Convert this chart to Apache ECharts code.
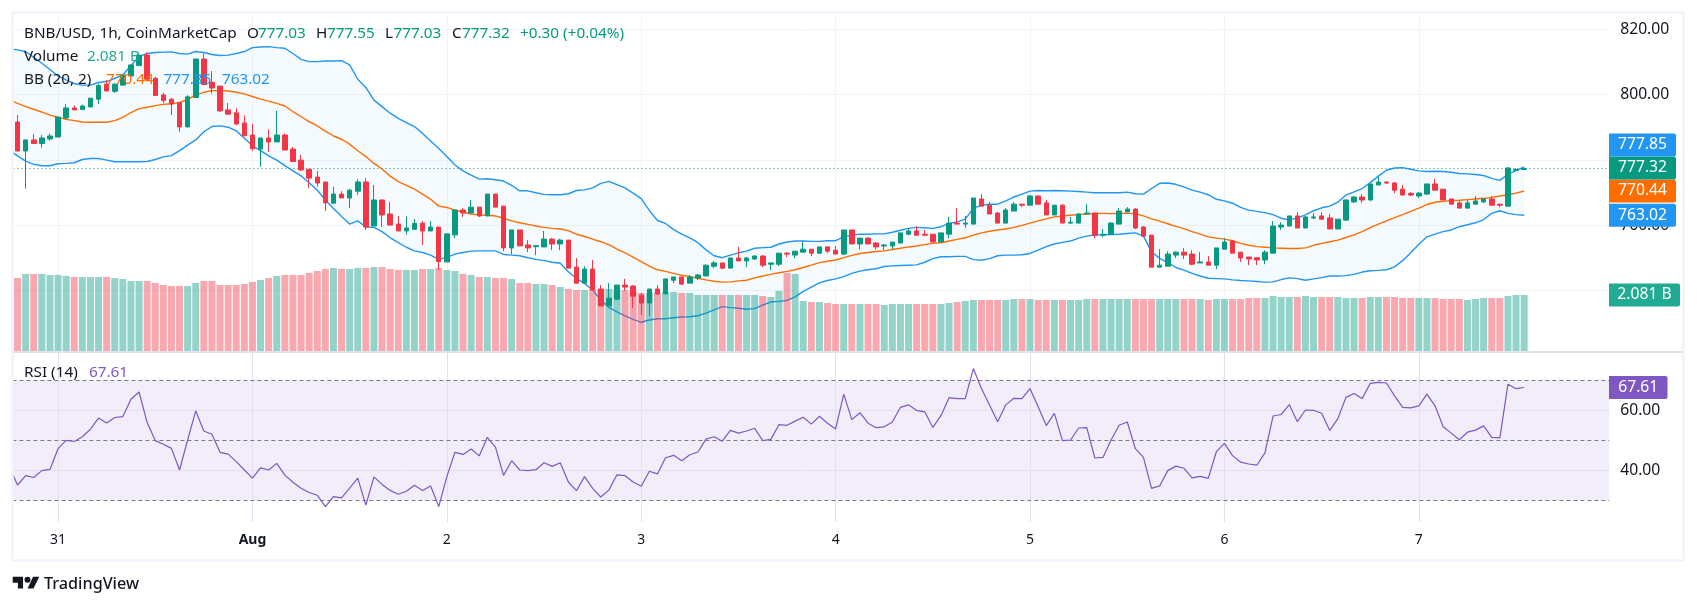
<!DOCTYPE html>
<html>
<head>
<meta charset="utf-8">
<title>BNB/USD</title>
<script src="https://cdn.jsdelivr.net/npm/echarts@6/dist/echarts.min.js"></script>
<style>html,body{margin:0;padding:0;background:#fff}</style>
</head>
<body>
<div id="main" style="width:1697px;height:607px"></div>
<script>
// hourly candles: [open, close, low, high]
var candles = [
[791.6,782.7,782.7,793.7],[782.7,786.1,771.2,786.1],[786.1,785.0,785.0,787.9],[785.0,786.7,783.7,787.6],[786.4,787.3,785.9,788.1],
[787.0,793.1,787.0,793.2],[792.8,795.9,792.4,797.1],[795.9,795.3,795.3,796.7],[795.4,796.5,795.4,796.9],[796.2,798.9,796.2,798.9],
[798.6,802.8,797.1,803.2],[803.2,801.1,801.1,804.5],[801.0,803.2,800.5,803.4],[802.9,806.0,802.9,806.0],[805.7,809.1,804.5,809.1],
[808.9,812.1,808.9,812.6],[812.1,804.7,804.7,812.9],[805.0,799.7,799.7,805.5],[799.9,798.2,797.3,800.5],[798.6,797.1,793.7,799.0],
[797.5,790.1,788.6,797.8],[790.1,799.3,789.9,799.8],[799.1,810.9,799.1,810.9],[810.9,803.1,803.1,812.6],[803.8,802.0,800.3,807.2],
[802.6,795.0,794.7,802.6],[795.3,794.0,794.0,797.4],[794.4,791.0,790.6,795.8],[791.3,787.4,787.2,793.6],[787.6,783.4,782.8,791.0],
[783.3,786.7,777.9,786.7],[786.7,785.5,782.4,789.3],[785.5,787.6,785.5,795.0],[787.6,783.0,783.0,788.1],[783.3,779.5,779.3,783.9],
[779.9,776.9,776.5,781.5],[777.1,774.4,771.4,777.1],[774.7,772.9,771.8,776.6],[773.2,766.8,764.3,773.2],[766.7,769.5,766.5,771.7],
[769.5,768.3,768.3,770.4],[768.3,770.7,765.2,771.1],[770.4,773.2,769.2,774.1],[773.2,759.4,758.5,774.4],[759.7,767.7,759.7,772.3],
[767.7,763.1,759.4,767.7],[763.4,760.0,760.0,767.1],[760.3,758.2,758.2,762.8],[758.2,759.1,757.0,762.6],[758.7,760.5,758.5,761.9],
[760.6,758.2,753.9,761.2],[758.2,759.4,758.2,761.2],[759.4,748.8,746.2,759.4],[748.7,757.3,748.7,757.3],[757.0,764.6,756.0,764.9],
[764.6,763.7,762.5,765.3],[763.7,765.5,763.7,767.7],[765.5,762.8,762.5,765.5],[762.8,769.5,762.8,769.5],[769.5,765.5,765.5,769.5],
[765.8,753.0,752.0,765.8],[753.0,758.5,751.1,758.5],[758.5,753.6,753.6,758.5],[753.9,753.0,751.7,755.4],[753.4,753.7,750.8,753.9],
[753.3,755.7,753.3,758.2],[755.7,754.2,752.3,756.0],[754.2,755.4,752.3,755.8],[755.4,746.8,746.8,755.4],[747.1,742.2,742.2,749.9],
[742.2,746.5,742.2,747.4],[746.5,740.1,740.1,749.3],[740.4,735.2,735.2,741.6],[735.2,737.6,735.2,742.2],[737.3,741.6,737.0,741.6],
[741.6,741.0,739.8,743.5],[741.3,738.2,734.6,741.6],[738.5,736.1,732.4,739.2],[736.1,740.4,732.1,740.4],[740.4,738.9,738.5,741.6],
[738.9,743.5,738.9,743.5],[743.1,744.1,742.2,744.1],[744.1,741.9,741.6,744.1],[742.2,744.1,742.2,744.7],[743.8,744.7,743.1,745.0],
[744.4,747.7,744.4,748.0],[747.4,748.4,746.8,749.0],[748.4,746.8,746.5,748.4],[746.8,749.9,746.8,749.9],[749.9,749.0,749.0,753.3],
[749.0,749.9,747.1,750.2],[749.6,750.5,749.3,750.8],[750.5,747.7,747.1,750.8],[748.0,748.4,746.2,748.4],[748.0,751.4,747.4,751.4],
[751.4,751.1,750.2,751.7],[750.8,752.0,749.9,752.0],[751.7,752.6,751.7,755.1],[752.6,751.4,750.5,752.6],[751.4,753.3,751.1,753.3],
[753.3,752.0,751.4,753.6],[752.3,751.1,751.1,753.6],[751.1,758.5,750.8,758.5],[758.5,754.2,754.2,758.5],[754.2,756.0,752.6,756.0],
[756.0,754.2,754.2,756.3],[754.5,753.3,752.6,754.8],[753.6,753.9,752.3,754.2],[753.6,754.8,752.6,754.8],[754.5,757.6,754.5,757.6],
[757.2,758.2,756.9,759.1],[758.2,756.9,756.9,759.7],[757.2,756.9,756.6,758.5],[757.2,754.8,754.8,757.2],[754.8,757.6,754.8,757.6],
[757.2,760.6,756.0,762.5],[760.6,760.3,760.3,765.2],[760.3,760.6,759.1,762.8],[760.3,768.3,760.3,768.3],[768.0,765.8,765.8,769.5],
[766.1,763.4,763.4,767.1],[763.7,760.6,760.6,764.0],[760.6,764.6,760.6,765.2],[764.3,766.4,764.3,767.1],[766.4,766.1,765.5,766.4],
[766.1,768.9,766.1,769.2],[768.9,766.4,766.4,769.2],[766.8,763.1,763.1,767.7],[763.1,766.1,763.1,766.1],[766.1,760.6,760.6,766.4],
[760.6,760.9,760.3,762.5],[760.6,763.4,760.6,763.7],[763.4,763.7,763.4,766.4],[763.7,756.9,756.0,763.7],[756.9,757.2,756.3,758.8],
[757.2,760.6,757.2,760.9],[760.3,764.3,760.3,765.2],[764.0,764.9,764.0,765.5],[764.9,759.1,758.8,765.2],[759.4,756.6,756.6,759.7],
[756.9,747.1,747.1,756.9],[747.1,747.7,747.1,752.6],[747.4,751.1,747.4,752.0],[750.8,751.7,749.9,752.0],[751.7,750.8,749.6,753.0],
[751.1,748.0,747.7,752.3],[748.4,748.7,748.4,751.7],[748.7,747.7,747.7,750.5],[747.7,753.0,746.5,753.0],[752.6,754.8,752.6,756.0],
[755.1,751.4,751.4,755.4],[751.7,749.9,748.7,751.7],[750.2,749.6,747.7,750.2],[750.0,749.3,747.7,750.2],[749.3,751.7,748.0,752.3],
[751.4,759.7,751.4,761.2],[759.4,760.0,758.5,760.9],[759.7,762.8,759.7,762.8],[762.8,759.1,759.1,764.0],[759.1,762.5,759.1,762.8],
[762.2,762.5,761.8,763.7],[762.8,761.8,761.8,764.0],[762.2,758.8,758.8,763.4],[758.8,761.8,758.8,761.8],[761.5,767.7,761.5,767.7],
[767.1,768.6,766.8,768.9],[768.6,767.7,766.8,769.5],[767.7,772.6,767.4,772.6],[772.3,773.2,772.3,774.7],[773.2,772.9,772.6,773.2],
[772.9,770.7,769.8,773.2],[771.0,769.2,769.2,772.3],[769.7,769.2,768.9,770.1],[768.9,769.8,768.3,770.1],[769.5,772.6,769.2,772.6],
[772.6,770.7,770.7,774.1],[771.0,767.7,767.7,771.0],[768.0,766.4,766.4,768.0],[766.8,765.2,765.2,767.4],[765.2,766.8,765.2,767.7],
[766.4,767.4,766.4,768.9],[767.1,768.0,766.8,768.0],[768.0,766.1,765.8,768.9],[766.4,766.1,765.5,766.4],[765.8,777.5,765.8,777.8],
[776.8,777.0,776.6,777.4],[777.03,777.32,777.03,777.55]
];

// volume in billions
var volumes = [
2.713,2.862,2.862,2.862,2.825,2.825,2.788,2.751,2.751,2.751,2.751,2.751,2.713,2.676,2.602,2.602,2.602,2.528,2.453,2.416,
2.416,2.416,2.528,2.602,2.602,2.453,2.453,2.453,2.490,2.565,2.639,2.713,2.788,2.825,2.825,2.825,2.899,2.974,3.048,3.085,
3.048,3.048,3.085,3.085,3.122,3.122,3.048,3.011,3.011,3.011,3.048,3.048,3.085,3.011,2.974,2.862,2.825,2.751,2.751,2.713,
2.713,2.676,2.528,2.528,2.490,2.490,2.453,2.379,2.305,2.267,2.267,2.305,2.305,2.305,2.267,2.267,2.193,2.156,2.156,2.156,
2.193,2.193,2.156,2.156,2.082,2.082,2.082,2.082,2.082,2.082,2.082,2.082,2.044,2.007,2.230,2.899,2.862,1.859,1.821,1.821,
1.784,1.747,1.747,1.747,1.747,1.747,1.747,1.710,1.747,1.747,1.747,1.747,1.747,1.747,1.747,1.784,1.821,1.859,1.896,1.896,
1.896,1.896,1.896,1.933,1.933,1.933,1.896,1.896,1.896,1.896,1.896,1.896,1.933,1.933,1.933,1.933,1.933,1.933,1.933,1.933,
1.933,1.933,1.933,1.933,1.933,1.933,1.933,1.896,1.933,1.933,1.933,1.933,1.970,1.970,1.970,2.044,2.007,2.007,2.007,2.044,
2.007,2.007,2.007,2.007,1.970,1.970,1.970,2.007,2.007,2.007,2.007,1.970,1.970,1.970,1.970,1.970,1.933,1.933,1.933,1.896,
1.933,1.970,1.970,1.970,2.044,2.081,2.081
];

// the indicator lists start one hour before the first candle, the line runs in from the left edge
var bbUpper = [
814.1,813.7,813.2,811.4,809.6,807.7,805.7,804.5,803.4,802.9,802.9,803.7,804.0,805.0,806.0,808.9,811.6,812.6,812.9,813.0,813.1,
812.6,812.4,813.2,812.9,812.3,812.0,812.1,812.6,813.2,814.4,814.6,814.7,814.4,814.2,812.6,810.8,810.1,810.1,810.3,810.3,
810.4,809.1,804.7,802.2,798.3,796.3,794.3,792.7,791.4,790.2,788.1,785.8,783.5,781.0,778.4,776.6,775.3,774.1,774.2,773.9,
773.5,772.2,770.5,770.5,769.9,769.4,769.3,769.3,769.6,770.6,770.8,771.4,772.8,773.4,772.4,771.4,769.8,768.1,764.5,761.4,
760.5,758.6,757.2,756.1,754.6,752.4,750.6,750.0,750.8,751.5,752.0,752.9,753.1,753.2,754.2,754.8,755.1,755.1,755.0,755.0,
755.2,755.2,756.4,757.0,757.2,757.2,757.3,757.3,757.8,758.4,759.0,759.3,759.2,759.0,759.5,760.5,761.0,761.8,765.1,766.1,
766.4,766.4,767.4,768.6,769.5,770.4,770.6,770.5,770.6,770.5,770.4,770.3,770.1,769.9,769.9,769.9,769.9,770.1,769.6,769.5,
771.2,772.8,772.9,772.5,771.7,770.7,770.1,769.3,767.9,767.4,766.7,765.4,764.6,764.2,763.8,763.2,762.1,761.6,762.2,763.1,
764.4,765.3,765.8,767.0,769.2,770.2,771.2,773.0,775.0,776.8,777.5,777.6,777.1,776.6,776.4,776.5,776.4,776.2,775.8,775.7,
775.5,775.2,774.3,773.7,775.6,776.7,777.85
];
var bbBasis = [
798.3,797.3,796.3,795.5,794.6,793.7,793.0,792.4,792.0,791.6,791.5,791.5,791.5,792.0,793.0,794.5,795.7,796.1,796.6,797.0,797.2,
797.6,798.5,799.9,800.7,801.2,801.2,801.1,800.7,800.2,799.4,798.6,798.0,797.3,796.5,794.8,793.2,791.7,790.4,788.8,787.3,
786.3,784.8,782.8,781.0,778.9,777.2,775.0,773.3,772.2,771.0,769.5,767.9,765.8,765.4,764.6,764.0,763.4,763.1,763.0,762.8,
762.1,761.3,760.7,760.2,759.7,759.3,759.0,758.8,758.3,757.2,756.5,755.7,754.9,754.0,752.6,751.5,750.2,748.8,747.4,746.3,
745.8,745.2,744.6,744.2,743.7,743.2,742.8,742.5,742.6,742.9,743.1,743.8,744.4,744.9,745.4,745.8,746.3,747.0,747.7,748.5,
748.9,749.3,750.0,750.7,751.3,751.6,751.9,752.1,752.5,752.9,753.3,753.6,754.0,754.4,754.6,755.1,755.6,756.1,756.9,757.6,
758.1,758.5,758.8,759.3,759.9,760.6,761.3,761.9,762.5,762.8,763.0,763.2,763.4,763.6,763.6,763.5,763.6,763.6,763.5,762.8,
761.9,761.2,760.4,759.6,758.9,758.0,757.2,756.4,756.0,755.7,755.2,754.4,753.8,753.4,753.2,753.0,752.9,752.8,752.8,753.0,
753.8,754.4,754.9,755.4,756.2,757.0,758.0,759.2,760.3,761.3,762.3,763.2,764.2,765.2,766.3,767.0,767.3,767.5,767.6,767.8,
768.0,768.2,768.5,768.9,769.3,769.8,770.44
];
var bbLower = [
782.8,781.2,779.6,778.6,778.2,778.2,778.8,778.9,779.1,780.1,780.4,780.4,779.9,779.4,779.4,779.4,779.4,779.5,780.1,780.9,781.3,
782.8,784.5,786.1,788.6,790.2,790.4,790.0,788.9,786.6,784.3,782.8,781.2,779.9,778.2,776.6,775.1,773.0,770.7,767.7,765.1,
762.6,760.3,761.3,759.4,759.3,758.0,756.1,754.6,753.2,752.1,751.6,750.8,749.5,750.1,751.1,751.6,752.0,752.1,752.1,752.1,
751.0,750.8,750.6,750.0,749.5,749.1,748.6,748.3,745.7,743.6,742.1,740.1,737.0,734.8,733.4,732.2,731.1,730.2,730.9,731.3,
731.3,731.6,731.8,731.9,732.2,733.0,734.0,735.0,734.7,734.5,734.2,734.4,735.5,736.4,736.6,736.9,738.0,739.7,741.0,742.3,
743.0,743.5,744.2,745.2,745.9,746.3,746.6,747.3,747.5,747.6,747.7,747.8,748.6,749.7,750.3,750.3,750.4,750.4,749.4,749.2,
749.7,750.6,750.8,750.8,750.9,751.3,752.3,753.4,754.2,754.7,755.1,756.0,756.6,757.0,757.0,757.1,757.2,757.4,757.6,756.6,
751.8,749.8,748.5,747.0,746.2,745.2,744.4,743.7,743.6,743.5,743.2,743.0,742.9,742.7,742.5,742.6,743.3,743.8,743.6,743.1,
743.5,743.9,744.4,744.4,744.5,744.9,745.6,746.0,746.1,746.3,747.2,749.1,751.5,754.1,756.4,757.2,758.0,758.5,759.5,760.1,
760.7,761.7,763.6,764.4,763.6,763.2,763.02
];
var rsi = [
41.1,35.1,38.2,37.6,39.9,40.3,47.2,50.0,49.6,51.2,53.7,57.4,55.8,57.6,57.9,63.7,66.1,55.9,49.9,48.7,47.3,
40.1,50.1,59.8,53.1,52.0,46.0,45.4,42.9,40.1,37.4,40.8,40.1,42.3,38.4,36.0,34.0,32.6,31.7,27.9,31.2,
30.8,34.1,37.4,28.4,37.8,35.3,33.3,32.0,33.0,35.0,33.3,34.8,27.9,37.9,46.0,45.3,47.1,44.8,51.0,47.7,
38.3,43.2,40.1,39.9,40.2,42.5,41.3,42.5,36.1,33.2,37.9,34.0,31.1,33.4,38.5,38.2,36.1,34.7,39.7,38.8,
44.2,45.0,43.2,45.2,46.1,50.4,51.2,49.7,53.3,52.4,53.1,54.0,49.9,50.3,55.2,55.0,56.4,57.7,55.4,58.0,
55.7,53.8,65.4,56.9,59.2,55.7,54.2,54.5,56.1,61.0,61.8,60.0,59.5,54.3,58.2,64.2,63.9,63.9,73.9,67.3,
61.8,56.2,61.8,64.0,63.9,67.2,61.2,54.9,59.0,49.9,50.1,54.1,54.2,44.1,44.3,50.1,55.0,56.1,47.2,44.3,
34.0,34.8,39.9,41.4,40.7,37.5,38.0,37.3,46.2,49.0,44.9,42.7,42.1,41.7,45.8,58.1,58.6,61.9,56.2,60.1,
60.0,59.0,53.3,57.2,64.3,65.6,63.9,69.0,69.3,69.1,64.8,61.0,60.8,61.5,65.4,61.5,54.5,52.4,50.2,52.7,
53.4,54.8,51.0,50.8,68.7,67.2,67.61
];

var dayLabels = ['31', 'Aug', '2', '3', '4', '5', '6', '7'];
var priceLabels = [760, 800, 820];
var priceLines = [740, 760, 780, 800, 820];
var rsiLabels = [40, 60];
var rsiLines = [40, 60];
var rsiLevels = [30, 50, 70];

var UP = '#089981', DOWN = '#f23645', TEXT = '#131722', GRID = '#f0f3fa';
var BLUE = '#2196f3', ORANGE = '#ff6d00', PURPLE = '#7e57c2', TEAL = '#22ab94';
var FONT = '"Noto Sans", sans-serif';

// one slot before the first candle, the rest after the last one is empty space up to the price scale
var SLOTS = 198, FIRST_DAY = 6;
var categories = [];
for (var s = 0; s < SLOTS; s++) categories.push('h' + s);
function pad(list) { return list.concat(new Array(SLOTS - list.length).fill('-')); }

var candleData = pad(['-'].concat(candles));
var volumeData = pad(['-'].concat(volumes.map(function (v, i) {
    var up = candles[i][1] >= candles[i][0];
    return { value: v, itemStyle: { color: up ? 'rgba(8,153,129,0.43)' : 'rgba(242,54,69,0.43)' } };
})));
var bandHeight = bbUpper.map(function (u, i) { return +(u - bbLower[i]).toFixed(2); });

var dayLines = dayLabels.map(function (d, i) { return { xAxis: FIRST_DAY + 24 * i }; });
function hLines(list) { return list.map(function (v) { return { yAxis: v }; }); }
function faintLines(data) {
    return { silent: true, symbol: 'none', z: 0, label: { show: false }, animation: false,
        lineStyle: { color: GRID, width: 1, type: 'solid' }, emphasis: { disabled: true }, data: data };
}

var grids = [
    { left: 5.4, width: 1603.8, top: 14, height: 337 },
    { left: 5.4, width: 1603.8, top: 14, height: 337 },
    { left: 5.4, width: 1603.8, top: 353, height: 169 }
];
function hiddenX(i) {
    return { type: 'category', gridIndex: i, data: categories, boundaryGap: true, axisLine: { show: false },
        axisTick: { show: false }, axisLabel: { show: false }, splitLine: { show: false } };
}
var rsiX = hiddenX(2);
rsiX.axisLabel = {
    show: true, margin: 11, color: TEXT, fontFamily: FONT, fontSize: 14,
    interval: function (i) { return i >= FIRST_DAY && (i - FIRST_DAY) % 24 === 0; },
    formatter: function (v, i) {
        var d = dayLabels[(i - FIRST_DAY) / 24];
        return d === 'Aug' ? '{b|' + d + '}' : d;
    },
    rich: { b: { fontWeight: 'bold', color: TEXT, fontFamily: FONT, fontSize: 14 } }
};

function scaleLabel(values) {
    return { show: true, margin: 11, color: TEXT, fontFamily: FONT, fontSize: 15.7, customValues: values,
        formatter: function (v) { return v.toFixed(2); } };
}

var option = {
    animation: false,
    backgroundColor: '#fff',
    grid: grids,
    xAxis: [hiddenX(0), hiddenX(1), rsiX],
    yAxis: [
        { type: 'value', gridIndex: 0, position: 'right', scale: true, min: 721.4, max: 824.7,
          axisLine: { show: false }, axisTick: { show: false }, splitLine: { show: false },
          axisLabel: scaleLabel(priceLabels) },
        { type: 'value', gridIndex: 1, min: 0, max: 12.52, show: false, splitLine: { show: false } },
        { type: 'value', gridIndex: 2, position: 'right', min: 22.77, max: 79.1,
          axisLine: { show: false }, axisTick: { show: false }, splitLine: { show: false },
          axisLabel: scaleLabel(rsiLabels) }
    ],
    series: [
        { name: 'band base', type: 'line', data: bbLower, stack: 'bb', symbol: 'none', silent: true,
          lineStyle: { opacity: 0 }, z: 1,
          markLine: faintLines(hLines(priceLines).concat(dayLines)) },
        { name: 'band', type: 'line', data: bandHeight, stack: 'bb', symbol: 'none', silent: true,
          lineStyle: { opacity: 0 }, areaStyle: { color: BLUE, opacity: 0.05 }, z: 1 },
        { name: 'upper', type: 'line', data: bbUpper, symbol: 'none', z: 2, lineStyle: { color: BLUE, width: 1.4 } },
        { name: 'lower', type: 'line', data: bbLower, symbol: 'none', z: 2, lineStyle: { color: BLUE, width: 1.4 } },
        { name: 'basis', type: 'line', data: bbBasis, symbol: 'none', z: 2, lineStyle: { color: ORANGE, width: 1.4 },
          markLine: { silent: true, symbol: 'none', label: { show: false }, z: 3,
              lineStyle: { color: UP, width: 1, type: [1, 3] }, data: [{ yAxis: 777.32 }] } },
        { name: 'volume', type: 'bar', xAxisIndex: 1, yAxisIndex: 1, data: volumeData, barWidth: 7, z: 3 },
        { name: 'BNB/USD', type: 'candlestick', data: candleData, barWidth: 5, z: 4,
          itemStyle: { color: UP, color0: DOWN, borderColor: UP, borderColor0: DOWN, borderWidth: 1 } },
        { name: 'RSI', type: 'line', xAxisIndex: 2, yAxisIndex: 2, data: rsi, symbol: 'none', z: 3,
          lineStyle: { color: PURPLE, width: 1.2 },
          markArea: { silent: true, z: 0, itemStyle: { color: PURPLE, opacity: 0.1 }, data: [[{ yAxis: 30 }, { yAxis: 70 }]] } },
        { name: 'rsi grid', type: 'line', xAxisIndex: 2, yAxisIndex: 2, data: [], z: 1, silent: true,
          markLine: { silent: true, symbol: 'none', label: { show: false }, z: 1,
              lineStyle: { color: '#e3dff0', width: 1, type: 'solid' }, data: hLines(rsiLines).concat(dayLines) } },
        { name: 'rsi levels', type: 'line', xAxisIndex: 2, yAxisIndex: 2, data: [], z: 2, silent: true,
          markLine: { silent: true, symbol: 'none', label: { show: false }, z: 2,
              lineStyle: { color: '#787b86', width: 1, type: [4, 3] }, data: hLines(rsiLevels) } }
    ]
};

var chart = echarts.init(document.getElementById('main'), null, { renderer: 'canvas' });
chart.setOption(option);

function label(x, y, text, color, weight, size) {
    return { type: 'text', x: x, y: y, z: 60,
        style: { text: text, fill: color, fontFamily: FONT, fontSize: size || 15.3, fontWeight: weight || 'normal',
            textVerticalAlign: 'middle' } };
}
function tag(right, y, text, color) {
    return { type: 'rect', z: 70, shape: { x: 1609, y: y - 11.5, width: right - 1609, height: 23, r: [0, 2, 2, 0] },
        style: { fill: color },
        textContent: { z: 71, style: { text: text, fill: '#fff', fontFamily: FONT, fontSize: 15.7 } },
        textConfig: { position: 'inside' } };
}

// last values on the scale, pushed up when they would overlap, as on the original
var lastTags = [
    { value: 763.02, text: '763.02', color: BLUE },
    { value: 770.44, text: '770.44', color: ORANGE },
    { value: 777.32, text: '777.32', color: UP },
    { value: 777.85, text: '777.85', color: BLUE }
];
var tagEls = [], nextY = Infinity;
lastTags.forEach(function (t) {
    var y = Math.min(chart.convertToPixel({ yAxisIndex: 0 }, t.value), nextY - 23);
    tagEls.push(tag(1676, y, t.text, t.color));
    nextY = y;
});
tagEls.push(tag(1680, chart.convertToPixel({ yAxisIndex: 1 }, volumes[volumes.length - 1]), '2.081 B', TEAL));
tagEls.push(tag(1667.5, chart.convertToPixel({ yAxisIndex: 2 }, rsi[rsi.length - 1]), '67.61', PURPLE));

var logoShape = { x: 12.7, y: 572.3, scaleX: 0.74, scaleY: 0.74, z: 60, style: { fill: TEXT } };
function logoPart(type, shape) { return Object.assign({ type: type, shape: shape }, logoShape); }

chart.setOption({
    graphic: {
        elements: [
            // nothing of the panes shows left of the frame
            { type: 'rect', z: 50, shape: { x: 0, y: 0, width: 12, height: 607 }, style: { fill: '#fff' } },
            { type: 'rect', z: 51, shape: { x: 12.5, y: 12.5, width: 1671, height: 548 },
              style: { fill: 'none', stroke: GRID, lineWidth: 2.5 } },
            { type: 'line', z: 51, shape: { x1: 13, y1: 352, x2: 1683, y2: 352 },
              style: { stroke: '#e0e3eb', lineWidth: 2 } },

            label(24, 34, 'BNB/USD, 1h, CoinMarketCap', TEXT),
            label(247, 34, 'O', TEXT), label(258, 34, '777.03', UP),
            label(316, 34, 'H', TEXT), label(327, 34, '777.55', UP),
            label(385, 34, 'L', TEXT), label(393.5, 34, '777.03', UP),
            label(452, 34, 'C', TEXT), label(462, 34, '777.32', UP),
            label(520, 34, '+0.30 (+0.04%)', UP),
            label(24, 57, 'Volume', TEXT), label(87, 57, '2.081 B', TEAL),
            label(24, 80, 'BB (20, 2)', TEXT), label(106, 80, '770.44', ORANGE),
            label(163.5, 80, '777.85', BLUE), label(222, 80, '763.02', BLUE),
            label(24, 373, 'RSI (14)', TEXT), label(89, 373, '67.61', PURPLE),

            logoPart('polygon', { points: [[14, 6], [0, 6], [0, 14], [7, 14], [7, 22], [14, 22]] }),
            logoPart('polygon', { points: [[28, 22], [20, 22], [27.5, 6], [36, 6]] }),
            logoPart('circle', { cx: 20, cy: 10, r: 4 }),
            label(44, 584, 'TradingView', TEXT, 500, 16.2)
        ].concat(tagEls)
    }
});
</script>
</body>
</html>
